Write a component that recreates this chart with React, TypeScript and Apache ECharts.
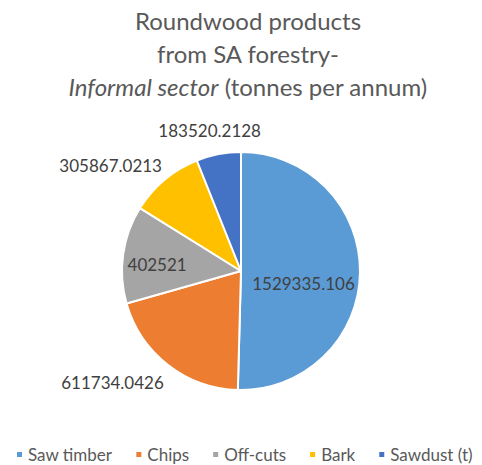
import React, { useEffect, useRef } from "react";
import * as echarts from "echarts";

const categories = ["Saw timber", "Chips", "Off-cuts", "Bark", "Sawdust (t)"];
const values = [1529335.106, 611734.0426, 402521, 305867.0213, 183520.2128];
const valueLabels = ["1529335.106", "611734.0426", "402521", "305867.0213", "183520.2128"];
const colors = ["#5B9BD5", "#ED7D31", "#A5A5A5", "#FFC000", "#4472C4"];
const labelPlacement = ["inside", "outside", "inside", "outside", "outside"];
const labelOffsets: [number, number][] = [[0, 12], [10, 6], [-22, 2], [12, -3], [-1, -9]];
const labelAligns = [undefined, undefined, undefined, undefined, "center"];

export default function App() {
  const ref = useRef<HTMLDivElement>(null);
  useEffect(() => {
    document.body.style.margin = "0";
    const chart = echarts.init(ref.current!, null, { renderer: "svg" });
    const font = "Lato, 'Noto Sans', sans-serif";
    chart.setOption({
      animation: false,
      backgroundColor: "#ffffff",
      graphic: [
        {
          type: "text",
          x: 248,
          y: 4,
          style: {
            text: "{n|Roundwood products}\n{n|from SA forestry-}\n{i|Informal sector}{n| (tonnes per annum)}",
            align: "center",
            rich: {
              n: { fontFamily: font, fontSize: 24, lineHeight: 33, fill: "#595959", color: "#595959" },
              i: { fontFamily: font, fontSize: 24, lineHeight: 33, fontStyle: "italic", fill: "#595959", color: "#595959" },
            },
          },
        },
      ],
      legend: {
        data: categories,
        left: 10,
        top: 441,
        itemWidth: 7,
        itemHeight: 7,
        itemGap: 22,
        icon: "rect",
        textStyle: { fontFamily: font, fontSize: 17, color: "#595959" },
      },
      series: [
        {
          type: "pie",
          center: [241, 271],
          radius: 119,
          startAngle: 90,
          clockwise: true,
          avoidLabelOverlap: false,
          itemStyle: { borderColor: "#ffffff", borderWidth: 2 },
          labelLine: { show: false, length: 15, length2: 0 },
          label: { fontFamily: font, fontSize: 17, color: "#404040" },
          labelLayout: (params: any) => {
            const o = labelOffsets[params.dataIndex];
            const r: any = { dx: o[0], dy: o[1] };
            const a = labelAligns[params.dataIndex];
            if (a) r.align = a;
            return r;
          },
          data: categories.map((c, i) => ({
            name: c,
            value: values[i],
            itemStyle: { color: colors[i] },
            label: {
              show: true,
              position: labelPlacement[i],
              formatter: valueLabels[i],
            },
          })),
        },
      ],
    });
    return () => chart.dispose();
  }, []);
  return <div ref={ref} style={{ width: 482, height: 465 }} />;
}
